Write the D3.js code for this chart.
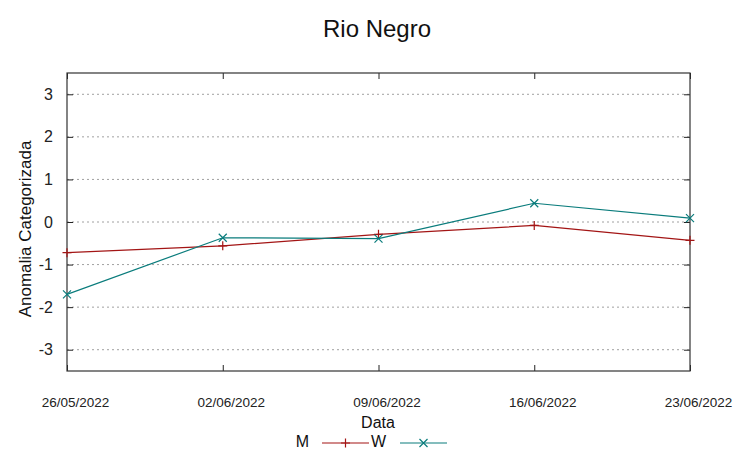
<!DOCTYPE html>
<html><head><meta charset="utf-8">
<script src="https://cdn.jsdelivr.net/npm/d3@7"></script>
<style>body{margin:0;background:#fff}svg{display:block;font-family:"Liberation Sans",Arial,sans-serif}</style>
</head><body>
<script>
const dates = ["26/05/2022","02/06/2022","09/06/2022","16/06/2022","23/06/2022"];
const seriesM = [-0.72,-0.56,-0.29,-0.08,-0.43];
const seriesW = [-1.70,-0.37,-0.39,0.44,0.09];
const yTicks = [-3,-2,-1,0,1,2,3];
const seriesNames = ["M","W"];
const colors = {M:"#a31515", W:"#0a7c7c"};

const W = 753, H = 459;
const m = {l:67, r:690, t:73, b:371};
const svg = d3.select("body").append("svg").attr("width",W).attr("height",H);
const x = d3.scalePoint().domain(dates).range([m.l,m.r]);
const y = d3.scaleLinear().domain([-3.5,3.5]).range([m.b,m.t]);

// grid
svg.append("g").selectAll("line").data(yTicks).join("line")
  .attr("x1",m.l).attr("x2",m.r).attr("y1",d=>y(d)).attr("y2",d=>y(d))
  .attr("stroke","#a0a0a0").attr("stroke-width",1).attr("stroke-dasharray","2,3");

// axes with inward ticks
const ax = svg.append("g").attr("transform",`translate(0,${m.b})`)
  .call(d3.axisBottom(x).tickSize(-6).tickPadding(26));
ax.select(".domain").remove();
ax.selectAll("line").attr("stroke","#222");
ax.selectAll("text").attr("dx","8").attr("font-size","13.5px").attr("fill","#222").attr("font-family","Liberation Sans, Arial, sans-serif");
const axT = svg.append("g").attr("transform",`translate(0,${m.t})`)
  .call(d3.axisTop(x).tickSize(-6).tickFormat(""));
axT.select(".domain").remove(); axT.selectAll("line").attr("stroke","#222");
const ay = svg.append("g").attr("transform",`translate(${m.l},0)`)
  .call(d3.axisLeft(y).tickValues(yTicks).tickSize(-6).tickPadding(14).tickFormat(d=>String(d)));
ay.select(".domain").remove();
ay.selectAll("line").attr("stroke","#222");
ay.selectAll("text").attr("font-size","16px").attr("fill","#222").attr("font-family","Liberation Sans, Arial, sans-serif");
const ayR = svg.append("g").attr("transform",`translate(${m.r},0)`)
  .call(d3.axisRight(y).tickValues(yTicks).tickSize(-6).tickFormat(""));
ayR.select(".domain").remove(); ayR.selectAll("line").attr("stroke","#222");

// border
svg.append("rect").attr("x",m.l).attr("y",m.t).attr("width",m.r-m.l).attr("height",m.b-m.t)
  .attr("fill","none").attr("stroke","#333").attr("stroke-width",1.2);

const line = d3.line().x((d,i)=>x(dates[i])).y(d=>y(d));
function plus(g,cx,cy,c){g.append("path").attr("d",`M${cx-4.5},${cy}H${cx+4.5}M${cx},${cy-4.5}V${cy+4.5}`).attr("stroke",c).attr("stroke-width",1.2);}
function cross(g,cx,cy,c){g.append("path").attr("d",`M${cx-4},${cy-4}L${cx+4},${cy+4}M${cx-4},${cy+4}L${cx+4},${cy-4}`).attr("stroke",c).attr("stroke-width",1.2);}
const data = {M:seriesM, W:seriesW};
seriesNames.forEach(s=>{
  const g = svg.append("g");
  g.append("path").datum(data[s]).attr("d",line).attr("fill","none").attr("stroke",colors[s]).attr("stroke-width",1.2);
  data[s].forEach((v,i)=>{ (s==="M"?plus:cross)(g,x(dates[i]),y(v),colors[s]); });
});

// title & labels
svg.append("text").attr("x",377).attr("y",37).attr("text-anchor","middle").attr("font-size","24px").attr("fill","#111").text("Rio Negro");
svg.append("text").attr("transform","translate(31,229) rotate(-90)").attr("text-anchor","middle").attr("font-size","17px").attr("fill","#111").text("Anomalia Categorizada");
svg.append("text").attr("x",378).attr("y",428).attr("text-anchor","middle").attr("font-size","16px").attr("fill","#111").text("Data");

// legend
const leg = [{n:"M",tx:309,l1:322,l2:369},{n:"W",tx:386,l1:400,l2:447}];
const ly = 443;
leg.forEach(o=>{
  svg.append("text").attr("x",o.tx).attr("y",ly+4).attr("text-anchor","end").attr("font-size","16px").attr("fill","#111").text(o.n);
  svg.append("line").attr("x1",o.l1).attr("x2",o.l2).attr("y1",ly).attr("y2",ly).attr("stroke",colors[o.n]).attr("stroke-width",1.2);
  (o.n==="M"?plus:cross)(svg,(o.l1+o.l2)/2,ly,colors[o.n]);
});
</script>
</body></html>
